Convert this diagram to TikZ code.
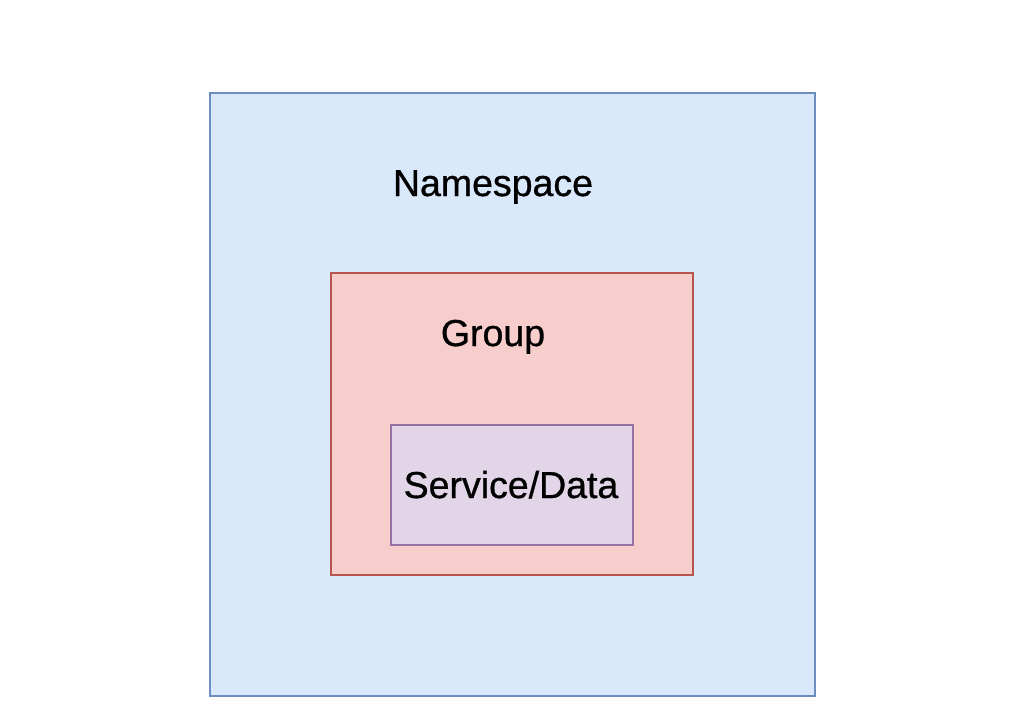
\documentclass[tikz,border=0pt]{standalone}
\usepackage{fontspec}
\setmainfont{Liberation Sans}
\newfontfamily\lblfont[FakeBold=0.8]{Liberation Sans}
\definecolor{nsfill}{HTML}{DAE8FC}
\definecolor{nsline}{HTML}{6C8EBF}
\definecolor{grfill}{HTML}{F8CECC}
\definecolor{grline}{HTML}{B85450}
\definecolor{svfill}{HTML}{E1D5E7}
\definecolor{svline}{HTML}{9673A6}
\begin{document}
\begin{tikzpicture}[x=1pt,y=-1pt,
  box/.style={line width=2.6pt},
  lbl/.style={font=\lblfont\fontsize{37.5}{40}\selectfont, anchor=base, inner sep=0pt}]
\useasboundingbox (0,0) rectangle (1024,710);
\draw[box, draw=nsline, fill=nsfill] (210,93) rectangle (815,696);
\draw[box, draw=grline, fill=grfill] (331,273) rectangle (693,575);
\draw[box, draw=svline, fill=svfill] (391,425) rectangle (633,545);
\node[lbl] (ns) at (493,196) {Namespace};
\node[lbl] (gr) at (493,346) {Group};
\node[lbl] (sv) at (511,498) {Service/Data};
\end{tikzpicture}
\end{document}
